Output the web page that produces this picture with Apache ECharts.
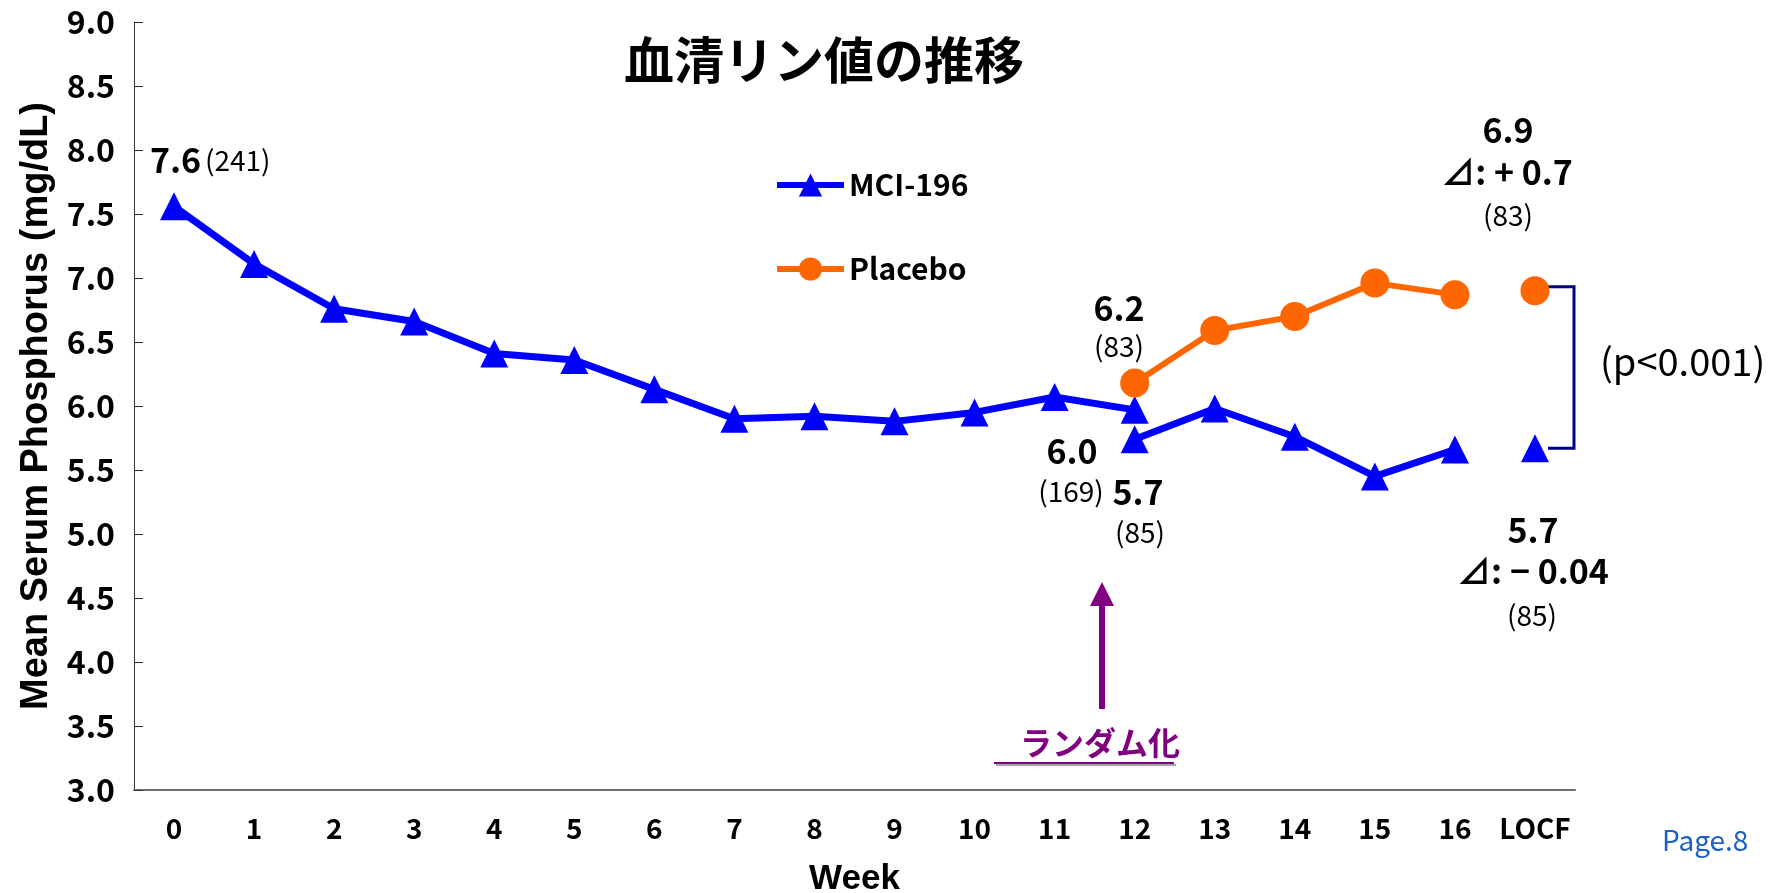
<!DOCTYPE html>
<html>
<head>
<meta charset="utf-8">
<script src="https://cdn.jsdelivr.net/npm/echarts@6/dist/echarts.min.js"></script>
<style>
  html, body { margin: 0; padding: 0; background: #ffffff; }
  #chart { width: 1777px; height: 893px; }
</style>
</head>
<body>
<div id="chart"></div>
<script>
// Week categories on the x axis (LOCF = last observation carried forward)
const categories = ['0', '1', '2', '3', '4', '5', '6', '7', '8', '9', '10', '11', '12', '13', '14', '15', '16', 'LOCF'];

// Mean serum phosphorus (mg/dL)
// MCI-196 run-in period, weeks 0-12
const mciRunIn = [7.56, 7.11, 6.76, 6.66, 6.41, 6.36, 6.13, 5.90, 5.92, 5.88, 5.95, 6.07, 5.97];
// MCI-196 after randomisation, weeks 12-16
const mciRandomised = [5.74, 5.98, 5.76, 5.45, 5.66];
const mciLocf = 5.67;
// Placebo after randomisation, weeks 12-16
const placeboRandomised = [6.18, 6.59, 6.70, 6.96, 6.87];
const placeboLocf = 6.90;
const randomisedStart = 12;

// Patient counts and change annotations
const nBaseline = '(241)';
const nRunInEnd = '(169)';
const nMci = '(85)';
const nPlacebo = '(83)';
const deltaPlacebo = '⊿: + 0.7';
const deltaMci = '⊿: − 0.04';
const pValueText = '(p<0.001)';

// Y axis range
const yMin = 3.0, yMax = 9.0, yStep = 0.5;

const BLUE = '#0000FF';
const ORANGE = '#FF6600';
const PURPLE = '#800080';
const NAVY = '#000080';
const JP = '"Noto Sans CJK JP", "Noto Sans", sans-serif';
const LATIN = '"Liberation Sans", Arial, sans-serif';

const chart = echarts.init(document.getElementById('chart'), null, { renderer: 'canvas' });
const locfIndex = categories.length - 1;

function lineSeries(name, data, symbol, size, color, width) {
  return {
    name: name,
    type: 'line',
    data: data,
    symbol: symbol,
    symbolSize: size,
    showAllSymbol: true,
    itemStyle: { color: color },
    lineStyle: { color: color, width: width },
    emphasis: { disabled: true },
    animation: false,
    z: 3
  };
}

const option = {
  backgroundColor: '#ffffff',
  animation: false,
  grid: { left: 134, right: 202, top: 22, bottom: 103, containLabel: false, outerBoundsMode: 'none' },
  legend: {
    data: ['MCI-196', 'Placebo'],
    orient: 'vertical',
    left: 774,
    top: 170,
    itemWidth: 67,
    itemHeight: 29,
    itemGap: 54,
    padding: 0,
    selectedMode: false,
    lineStyle: { width: 6 },
    textStyle: { fontFamily: JP, fontSize: 30, fontWeight: 'bold', color: '#000' }
  },
  xAxis: {
    type: 'category',
    data: categories,
    boundaryGap: true,
    name: 'Week',
    nameLocation: 'middle',
    nameGap: 72,
    nameTextStyle: { fontFamily: LATIN, fontSize: 35, fontWeight: 'bold', color: '#000' },
    axisLine: { lineStyle: { color: '#707070', width: 2 } },
    axisTick: { inside: true, length: 8, lineStyle: { color: '#505050', width: 1 } },
    axisLabel: { fontFamily: JP, fontSize: 28, fontWeight: 'bold', color: '#000', margin: 24, interval: 0 },
    splitLine: { show: false }
  },
  yAxis: {
    type: 'value',
    min: yMin,
    max: yMax,
    interval: yStep,
    name: 'Mean Serum Phosphorus (mg/dL)',
    nameLocation: 'middle',
    nameGap: 78,
    nameTextStyle: { fontFamily: LATIN, fontSize: 38, fontWeight: 'bold', color: '#000' },
    axisLine: { show: true, lineStyle: { color: '#333', width: 1 } },
    axisTick: { show: true, inside: true, length: 9, lineStyle: { color: '#333', width: 1 } },
    axisLabel: { fontFamily: JP, fontSize: 32, fontWeight: 'bold', color: '#000', margin: 19,
      formatter: v => v.toFixed(1) },
    splitLine: { show: false }
  },
  series: [
    lineSeries('MCI-196', mciRunIn.map((v, i) => [i, v]), 'triangle', 28, BLUE, 7),
    lineSeries('MCI-196', mciRandomised.map((v, i) => [randomisedStart + i, v]), 'triangle', 28, BLUE, 7),
    lineSeries('MCI-196', [[locfIndex, mciLocf]], 'triangle', 28, BLUE, 7),
    lineSeries('Placebo', placeboRandomised.map((v, i) => [randomisedStart + i, v]), 'circle', 29, ORANGE, 6),
    lineSeries('Placebo', [[locfIndex, placeboLocf]], 'circle', 29, ORANGE, 6)
  ]
};

chart.setOption(option);

// Annotation text and helpers
function txt(text, x, y, opts) {
  return {
    type: 'text',
    silent: true,
    z: 10,
    style: Object.assign({
      text: text, x: x, y: y,
      fontFamily: JP, fontSize: 28, fontWeight: 'normal', fill: '#000',
      align: 'center', verticalAlign: 'middle'
    }, opts || {})
  };
}
const bold = { fontSize: 34, fontWeight: 'bold' };
const fmt = v => v.toFixed(1);

// Significance bracket between the two LOCF values
const pTop = chart.convertToPixel({ gridIndex: 0 }, [locfIndex, placeboLocf]);
const pBot = chart.convertToPixel({ gridIndex: 0 }, [locfIndex, mciLocf]);
const axisRight = chart.getWidth() - 202 - 1;

const graphics = [
  // Title
  txt('血清リン値の推移', 824, 60, { fontSize: 50, fontWeight: 'bold' }),

  // Baseline label
  txt(fmt(mciRunIn[0]), 150, 160, Object.assign({ align: 'left' }, bold)),
  txt(nBaseline, 205, 160, { align: 'left' }),

  // Randomisation labels
  txt(fmt(placeboRandomised[0]), 1119, 308, bold),
  txt(nPlacebo, 1119, 346),
  txt(fmt(mciRunIn[mciRunIn.length - 1]), 1072, 451, bold),
  txt(nRunInEnd, 1071, 491),
  txt(fmt(mciRandomised[0]), 1138, 492, bold),
  txt(nMci, 1140, 532),

  // LOCF labels
  txt(fmt(placeboLocf), 1508, 130, bold),
  txt(deltaPlacebo, 1507, 172, bold),
  txt(nPlacebo, 1508, 215),
  txt(fmt(mciLocf), 1533, 530, bold),
  txt(deltaMci, 1533, 571, bold),
  txt(nMci, 1532, 615),

  // p value
  txt(pValueText, 1600, 362, { align: 'left', fontSize: 38 }),

  // Bracket
  {
    type: 'polyline', silent: true, z: 2,
    shape: { points: [[pTop[0] + 13, pTop[1] - 4], [axisRight, pTop[1] - 4], [axisRight, pBot[1]], [pTop[0] + 13, pBot[1]]] },
    style: { stroke: NAVY, lineWidth: 3, fill: null }
  },

  // Randomisation arrow
  {
    type: 'line', silent: true, z: 5,
    shape: { x1: 1102, y1: 709, x2: 1102, y2: 600 },
    style: { stroke: PURPLE, lineWidth: 6 }
  },
  {
    type: 'polygon', silent: true, z: 5,
    shape: { points: [[1102, 582], [1090, 606], [1114, 606]] },
    style: { fill: PURPLE }
  },

  // Randomisation caption with underline
  {
    type: 'line', silent: true, z: 5,
    shape: { x1: 994, y1: 763, x2: 1174, y2: 763 },
    style: { stroke: PURPLE, lineWidth: 2, shadowColor: 'rgba(0,0,0,0.35)', shadowOffsetX: 2, shadowOffsetY: 2 }
  },
  txt('ランダム化', 1020, 743, {
    align: 'left', fontSize: 32, fontWeight: 'bold', fill: PURPLE,
    textShadowColor: 'rgba(0,0,0,0.35)', textShadowOffsetX: 2, textShadowOffsetY: 2
  }),

  // Page number
  txt('Page.8', 1662, 840, { align: 'left', fontSize: 28, fill: '#1A5FCC' })
];

chart.setOption({ graphic: graphics });
</script>
</body>
</html>
